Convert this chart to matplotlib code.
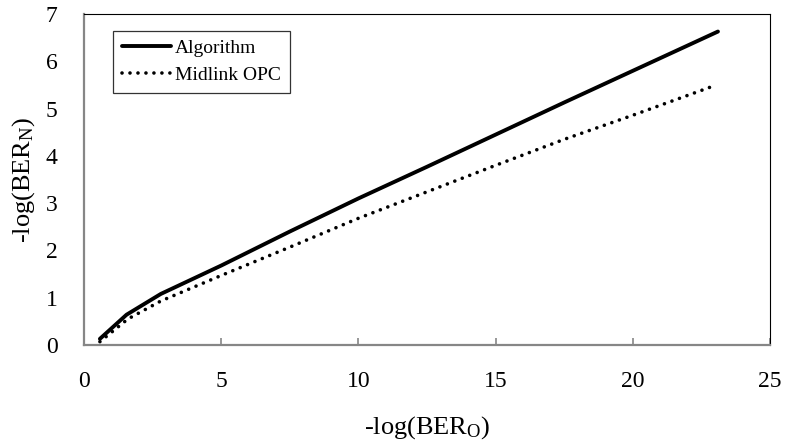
import matplotlib
matplotlib.use("Agg")
import matplotlib.pyplot as plt

plt.rcParams['font.family'] = ['Liberation Serif', 'DejaVu Serif']
plt.rcParams['mathtext.fontset'] = 'custom'
plt.rcParams['mathtext.rm'] = 'Liberation Serif'
plt.rcParams['mathtext.it'] = 'Liberation Serif:italic'

# -log(BER_O) vs -log(BER_N)
alg_x = [0.58, 1.55, 2.8, 5.0, 7.5, 10.0, 12.5, 15.0, 17.5, 20.0, 23.1]
alg_y = [0.13, 0.64, 1.08, 1.68, 2.40, 3.10, 3.77, 4.45, 5.13, 5.80, 6.63]

opc_x = [0.58, 1.6, 2.8, 5.0, 7.5, 10.0, 12.5, 15.0, 17.5, 20.0, 22.9]
opc_y = [0.07, 0.55, 0.93, 1.47, 2.07, 2.68, 3.24, 3.80, 4.35, 4.86, 5.47]

x_ticks = [0, 5, 10, 15, 20, 25]
y_ticks = [0, 1, 2, 3, 4, 5, 6, 7]

fig = plt.figure(figsize=(7.85, 4.46), dpi=100)
ax = fig.add_axes([0.107, 0.2265, 0.874, 0.742])

ax.plot(alg_x, alg_y, color='black', lw=2.8, solid_capstyle='round',
        label='Algorithm')
ax.plot(opc_x, opc_y, color='black', lw=2.6, linestyle=(0, (0.01, 2.2)),
        dash_capstyle='round', label='Midlink OPC')

ax.set_xlim(0, 25)
ax.set_ylim(0, 7)
ax.set_xticks(x_ticks)
ax.set_yticks(y_ticks)
ax.tick_params(axis='x', direction='in', length=5, width=1.2, color='#868686',
               pad=19, labelsize=17)
ax.tick_params(axis='y', length=0, pad=19, labelsize=17)

for side in ('left', 'bottom'):
    ax.spines[side].set_color('#868686')
    ax.spines[side].set_linewidth(1.6)
for side in ('top', 'right'):
    ax.spines[side].set_color('black')
    ax.spines[side].set_linewidth(0.8)

ax.set_xlabel(r'-log(BER$_\mathrm{O}$)', fontsize=19, labelpad=16)
ax.set_ylabel(r'-log(BER$_\mathrm{N}$)', fontsize=19, labelpad=6)

leg = ax.legend(loc='upper left', bbox_to_anchor=(0.042, 0.95), fontsize=14,
                frameon=True, fancybox=False, edgecolor='black',
                handlelength=2.55, handletextpad=0.2, borderpad=0.45,
                labelspacing=0.5, borderaxespad=0)
leg.get_frame().set_linewidth(0.9)

fig.savefig('out.png', dpi=100)
